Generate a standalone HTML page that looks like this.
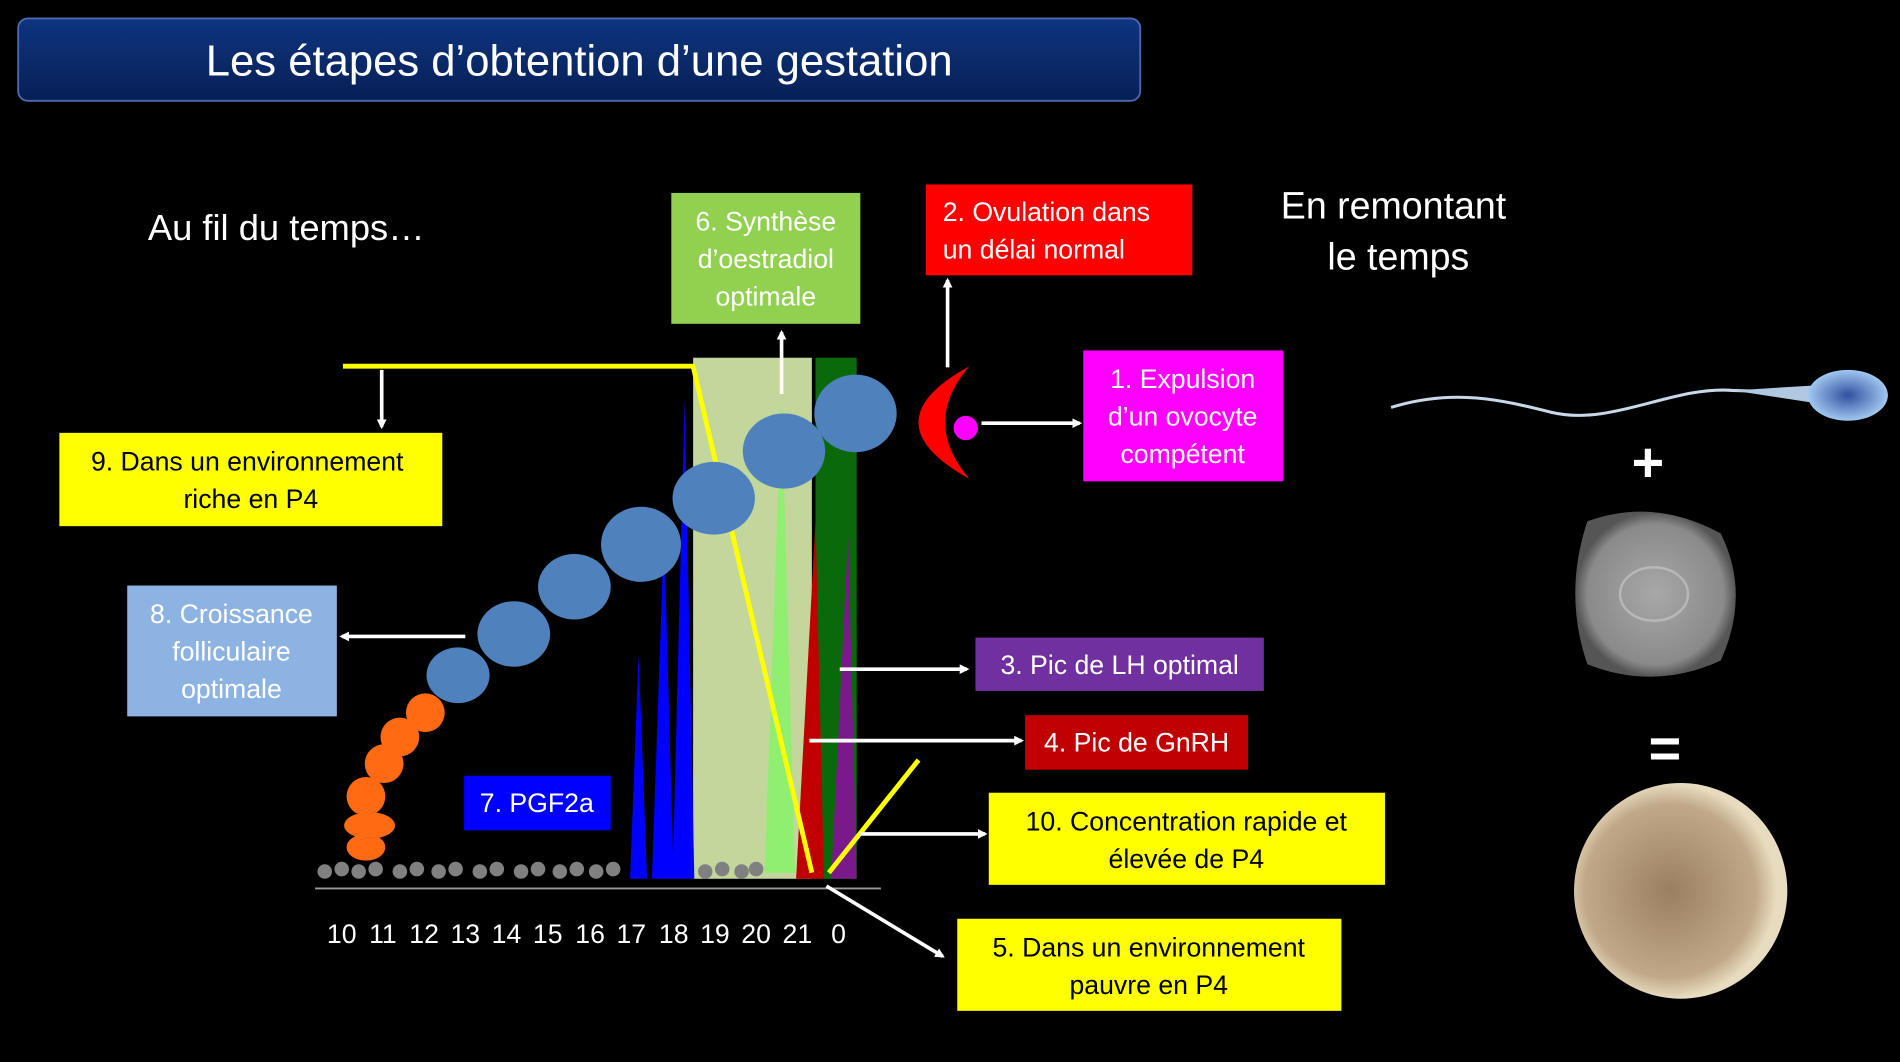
<!DOCTYPE html>
<html><head><meta charset="utf-8"><style>
html,body{margin:0;padding:0;background:#000;}
svg{display:block;}
text{font-family:"Liberation Sans",sans-serif;}
</style></head><body>
<svg width="1900" height="1062" viewBox="0 0 1568 876" xmlns="http://www.w3.org/2000/svg">
<defs>
<linearGradient id="tg" x1="0" y1="0" x2="0" y2="1"><stop offset="0" stop-color="#0e3580"/><stop offset="1" stop-color="#071f55"/></linearGradient>
<marker id="ah" markerWidth="8" markerHeight="8" refX="6" refY="4" orient="auto" markerUnits="userSpaceOnUse"><path d="M0,0 L8,4 L0,8 z" fill="#fff"/></marker>
<radialGradient id="oo" cx="0.5" cy="0.5" r="0.5"><stop offset="0" stop-color="#a8a8a8"/><stop offset="0.85" stop-color="#8a8a8a"/><stop offset="1" stop-color="#555"/></radialGradient>
<radialGradient id="em" cx="0.45" cy="0.5" r="0.5"><stop offset="0" stop-color="#9a8060"/><stop offset="0.8" stop-color="#c0a888"/><stop offset="1" stop-color="#e8dcc0"/></radialGradient>
<radialGradient id="sh" cx="0.5" cy="0.5" r="0.5"><stop offset="0" stop-color="#3050a0"/><stop offset="1" stop-color="#a0c8f0"/></radialGradient>
</defs>
<rect width="1568" height="876" fill="#000"/>
<rect x="15" y="15" width="926" height="68" rx="8" fill="url(#tg)" stroke="#4a6ab0" stroke-width="1.5"/>
<text x="478" y="62" font-size="36" fill="#fff" text-anchor="middle">Les étapes d’obtention d’une gestation</text>

<text x="122" y="198" font-size="30" fill="#fff">Au fil du temps…</text>
<text x="1150" y="180" font-size="31" fill="#fff" text-anchor="middle">En remontant</text>
<text x="1154" y="222" font-size="31" fill="#fff" text-anchor="middle">le temps</text>

<rect x="572" y="295" width="98" height="430" fill="#c3d69b"/>
<rect x="673" y="295" width="34" height="430" fill="#0a6a0a"/>
<polygon points="686,725 707,725 700,440" fill="#7a1a8a"/>
<polygon points="657,725 680,725 673,430" fill="#c00000"/>
<polygon points="631,720 656,720 645,330" fill="#90ee70"/>
<polygon points="520,725 534,725 527,540" fill="#0000ff"/>
<polygon points="538,725 556,725 548,440" fill="#0000ff"/>
<polygon points="555,725 573,725 565,330" fill="#0000ff"/>

<g fill="#808080">
<circle cx="268" cy="719" r="6"/><circle cx="282" cy="717" r="6"/><circle cx="296" cy="719" r="6"/><circle cx="310" cy="717" r="6"/><circle cx="330" cy="719" r="6"/><circle cx="344" cy="717" r="6"/><circle cx="362" cy="719" r="6"/><circle cx="376" cy="717" r="6"/><circle cx="396" cy="719" r="6"/><circle cx="410" cy="717" r="6"/><circle cx="430" cy="719" r="6"/><circle cx="444" cy="717" r="6"/><circle cx="462" cy="719" r="6"/><circle cx="476" cy="717" r="6"/><circle cx="492" cy="719" r="6"/><circle cx="506" cy="717" r="6"/><circle cx="582" cy="719" r="6"/><circle cx="596" cy="717" r="6"/><circle cx="612" cy="719" r="6"/><circle cx="624" cy="717" r="6"/>
</g>
<line x1="260" y1="733" x2="727" y2="733" stroke="#999" stroke-width="1.5"/>

<polyline points="283,302 572,302 670,720" fill="none" stroke="#ffff00" stroke-width="4"/>
<line x1="684" y1="720" x2="758" y2="627" stroke="#ffff00" stroke-width="4"/>

<g fill="#4f81bd">
<ellipse cx="706" cy="341" rx="34" ry="32"/>
<ellipse cx="647" cy="372" rx="34" ry="31"/>
<ellipse cx="589" cy="411" rx="34" ry="30"/>
<ellipse cx="529" cy="449" rx="33" ry="31"/>
<ellipse cx="474" cy="484" rx="30" ry="27"/>
<ellipse cx="424" cy="523" rx="30" ry="27"/>
<ellipse cx="378" cy="557" rx="26" ry="23"/>
</g>
<g fill="#ff6a13">
<circle cx="351" cy="588" r="16"/><circle cx="330" cy="608" r="16"/><circle cx="317" cy="630" r="16"/><circle cx="302" cy="657" r="16"/>
<ellipse cx="305" cy="681" rx="21" ry="11"/><ellipse cx="302" cy="699" rx="16" ry="11"/>
</g>

<path d="M800,302 Q716,348 800,395 Q760,348 800,302 z" fill="#ff0000"/>
<circle cx="797" cy="353" r="10" fill="#ff00ff"/>

<g stroke="#fff" stroke-width="3" marker-end="url(#ah)">
<line x1="315" y1="305" x2="315" y2="352"/>
<line x1="384" y1="525" x2="282" y2="525"/>
<line x1="782" y1="303" x2="782" y2="231"/>
<line x1="645" y1="325" x2="645" y2="274"/>
<line x1="810" y1="349" x2="891" y2="349"/>
<line x1="693" y1="552" x2="798" y2="552"/>
<line x1="668" y1="611" x2="843" y2="611"/>
<line x1="710" y1="688" x2="813" y2="688"/>
<line x1="682" y1="731" x2="778" y2="789"/>
</g>

<g font-size="22" fill="#fff" text-anchor="middle">
<text x="282" y="778">10</text><text x="316" y="778">11</text><text x="350" y="778">12</text><text x="384" y="778">13</text><text x="418" y="778">14</text><text x="452" y="778">15</text><text x="487" y="778">16</text><text x="521" y="778">17</text><text x="556" y="778">18</text><text x="590" y="778">19</text><text x="624" y="778">20</text><text x="658" y="778">21</text><text x="692" y="778">0</text>
</g>

<rect x="554" y="159" width="156" height="108" fill="#92d050"/>
<g font-size="22" fill="#fff" text-anchor="middle"><text x="632" y="190">6. Synthèse</text><text x="632" y="221">d’oestradiol</text><text x="632" y="252">optimale</text></g>
<rect x="764" y="152" width="220" height="75" fill="#ff0000"/>
<g font-size="22" fill="#fff"><text x="778" y="182">2. Ovulation dans</text><text x="778" y="213">un délai normal</text></g>
<rect x="894" y="289" width="165" height="108" fill="#ff00ff"/>
<g font-size="22" fill="#fff" text-anchor="middle"><text x="976" y="320">1. Expulsion</text><text x="976" y="351">d’un ovocyte</text><text x="976" y="382">compétent</text></g>
<rect x="49" y="357" width="316" height="77" fill="#ffff00"/>
<g font-size="22" fill="#000" text-anchor="middle"><text x="204" y="388">9. Dans un environnement</text><text x="207" y="419">riche en P4</text></g>
<rect x="105" y="483" width="173" height="108" fill="#8db3e2"/>
<g font-size="22" fill="#fff" text-anchor="middle"><text x="191" y="514">8. Croissance</text><text x="191" y="545">folliculaire</text><text x="191" y="576">optimale</text></g>
<rect x="805" y="526" width="238" height="44" fill="#7030a0"/>
<text x="924" y="556" font-size="22" fill="#fff" text-anchor="middle">3. Pic de LH optimal</text>
<rect x="846" y="590" width="184" height="45" fill="#c00000"/>
<text x="938" y="620" font-size="22" fill="#fff" text-anchor="middle">4. Pic de GnRH</text>
<rect x="383" y="640" width="121" height="45" fill="#0000ff"/>
<text x="443" y="670" font-size="22" fill="#fff" text-anchor="middle">7. PGF2a</text>
<rect x="816" y="654" width="327" height="76" fill="#ffff00"/>
<g font-size="22" fill="#000" text-anchor="middle"><text x="979" y="685">10. Concentration rapide et</text><text x="979" y="716">élevée de P4</text></g>
<rect x="790" y="758" width="317" height="76" fill="#ffff00"/>
<g font-size="22" fill="#000" text-anchor="middle"><text x="948" y="789">5. Dans un environnement</text><text x="948" y="820">pauvre en P4</text></g>

<path d="M1148,336 C1200,320 1240,330 1280,340 C1330,352 1380,318 1430,322 L1495,324" fill="none" stroke="#c8d8e8" stroke-width="2.5"/>
<path d="M1430,322 L1495,318 L1495,332 Z" fill="#b0c8e0"/>
<ellipse cx="1525" cy="326" rx="33" ry="21" fill="url(#sh)"/>
<text x="1360" y="397" font-size="46" fill="#fff" text-anchor="middle" font-weight="bold">+</text>
<path d="M1310,430 Q1365,410 1420,440 Q1445,490 1420,545 Q1365,570 1310,548 Q1290,490 1310,430 Z" fill="url(#oo)"/>
<ellipse cx="1365" cy="490" rx="28" ry="22" fill="none" stroke="#b8b8b8" stroke-width="2"/>
<text x="1374" y="633" font-size="46" fill="#fff" text-anchor="middle" font-weight="bold">=</text>
<ellipse cx="1387" cy="735" rx="88" ry="89" fill="url(#em)"/>
</svg>
</body></html>
